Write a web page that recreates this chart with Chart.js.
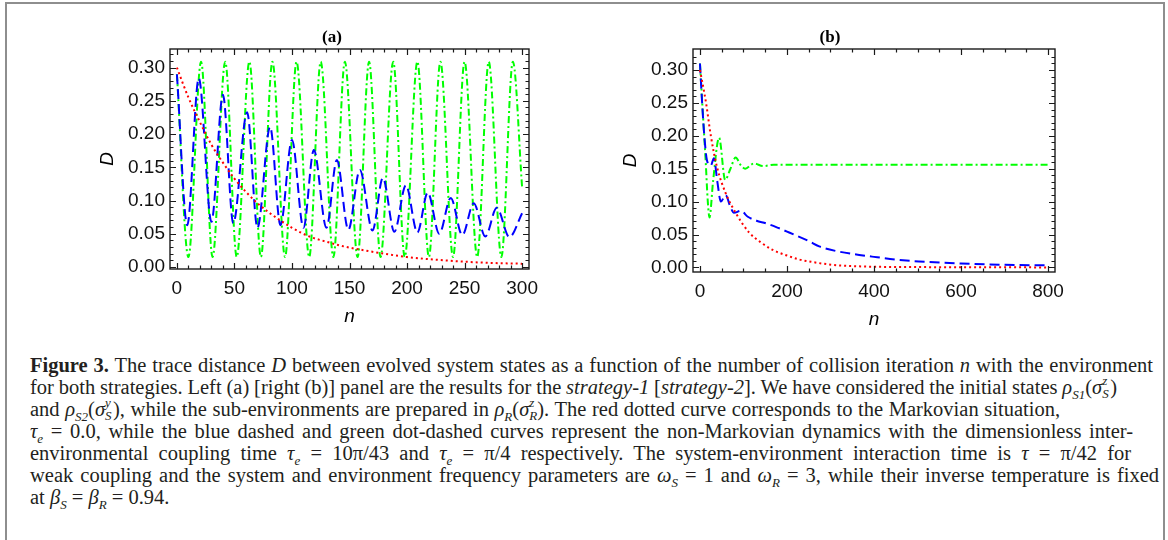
<!DOCTYPE html>
<html>
<head>
<meta charset="utf-8">
<script src="https://cdn.jsdelivr.net/npm/chart.js@4.4.0/dist/chart.umd.min.js"></script>
<style>
html,body{margin:0;padding:0;background:#fff;}
body{width:1168px;height:540px;position:relative;overflow:hidden;}
#Frame{position:absolute;left:5px;top:2px;width:1156px;height:600px;border:2px solid #8e8e8e;border-bottom:none;}
canvas{position:absolute;top:0;}
#Panel__A{left:0;}
#Panel__B{left:584px;}
#Caption{position:absolute;left:30px;top:354px;font-family:"Liberation Serif",serif;font-size:20.5px;color:#231f20;}
.Line{display:block;width:max-content;white-space:nowrap;height:22px;line-height:22px;}
.st{display:inline-block;position:relative;width:8px;height:10px;font-size:13px;font-style:italic;}
.st .up{position:absolute;left:0;top:-10px;line-height:13px;}
.st .dn{position:absolute;left:0;top:3px;line-height:13px;}
sub{font-size:13px;font-style:italic;line-height:0;}
</style>
</head>
<body>
<div id="Frame"></div>
<canvas id="Panel__A" width="584" height="340"></canvas>
<canvas id="Panel__B" width="584" height="340"></canvas>
<div id="Caption">
  <span class="Line" data-w="1123"><b>Figure 3.</b> The trace distance <i>D</i> between evolved system states as a function of the number of collision iteration <i>n</i> with the environment</span>
  <span class="Line" data-w="1087">for both strategies. Left (a) [right (b)] panel are the results for the <i>strategy-1</i> [<i>strategy-2</i>]. We have considered the initial states <i>ρ</i><sub>S1</sub>(<i>σ</i><span class="st"><span class="up">z</span><span class="dn">S</span></span>)</span>
  <span class="Line" data-w="1030">and <i>ρ</i><sub>S2</sub>(<i>σ</i><span class="st"><span class="up">y</span><span class="dn">S</span></span>), while the sub-environments are prepared in <i>ρ</i><sub>R</sub>(<i>σ</i><span class="st"><span class="up">z</span><span class="dn">R</span></span>). The red dotted curve corresponds to the Markovian situation,</span>
  <span class="Line" data-w="1103"><i>τ</i><sub>e</sub> = 0.0, while the blue dashed and green dot-dashed curves represent the non-Markovian dynamics with the dimensionless inter-</span>
  <span class="Line" data-w="1101">environmental coupling time <i>τ</i><sub>e</sub> = 10π/43 and <i>τ</i><sub>e</sub> = π/4 respectively. The system-environment interaction time is <i>τ</i> = π/42 for</span>
  <span class="Line" data-w="1129">weak coupling and the system and environment frequency parameters are <i>ω</i><sub>S</sub> = 1 and <i>ω</i><sub>R</sub> = 3, while their inverse temperature is fixed</span>
  <span class="Line">at <i>β</i><sub>S</sub> = <i>β</i><sub>R</sub> = 0.94.</span>
</div>
<script>
/* panel (a): strategy-1, n from 0 to 300 */
const aRedN = [0, 10, 20, 30, 40, 50, 60, 70, 80, 90, 100, 115, 130, 145, 160, 180, 200, 225, 250, 275, 300];
const aRedD = [0.300, 0.255, 0.218, 0.184, 0.157, 0.133, 0.113, 0.096, 0.082, 0.070, 0.059, 0.046, 0.038, 0.031, 0.026, 0.020, 0.015, 0.011, 0.008, 0.006, 0.005];

const aBlueN = [0, 9, 19, 30, 40, 49, 61, 70, 81, 90, 100, 110, 119, 130, 139, 149, 159, 170, 179, 189, 199, 209, 218, 228, 238, 248, 258, 268, 278, 289, 300];
const aBlueD = [0.290, 0.063, 0.284, 0.068, 0.259, 0.066, 0.233, 0.059, 0.211, 0.063, 0.191, 0.059, 0.176, 0.059, 0.161, 0.056, 0.146, 0.055, 0.134, 0.053, 0.123, 0.052, 0.112, 0.050, 0.104, 0.048, 0.096, 0.046, 0.089, 0.045, 0.081];

const aGreenN = [0, 10, 21, 31, 42, 52, 63, 73, 83, 94, 104, 115, 125, 136, 146, 157, 167, 177, 188, 198, 209, 219, 229, 240, 250, 261, 271, 282, 292, 300];
const aGreenD = [0.290, 0.015, 0.309, 0.015, 0.309, 0.015, 0.309, 0.015, 0.309, 0.015, 0.309, 0.015, 0.309, 0.015, 0.309, 0.015, 0.309, 0.015, 0.309, 0.015, 0.309, 0.015, 0.309, 0.015, 0.309, 0.015, 0.309, 0.015, 0.309, 0.120];

/* panel (b): strategy-2, n from 0 to 800 */
const bRedN = [0, 14, 25, 39, 59, 82, 113, 140, 166, 200, 228, 260, 303, 350, 400, 500, 600, 800];
const bRedD = [0.300, 0.250, 0.200, 0.153, 0.113, 0.083, 0.053, 0.038, 0.027, 0.018, 0.012, 0.008, 0.004, 0.002, 0.001, 0.0005, 0.0002, 0.0];

const bBlueN = [0, 5, 10, 16, 25, 32, 40, 48, 59, 70, 78, 94, 110, 130, 152, 180, 205, 250, 274, 312, 366, 400, 450, 503, 600, 700, 800];
const bBlueD = [0.310, 0.250, 0.200, 0.163, 0.155, 0.166, 0.130, 0.100, 0.110, 0.092, 0.083, 0.086, 0.077, 0.071, 0.067, 0.060, 0.053, 0.040, 0.032, 0.025, 0.019, 0.016, 0.012, 0.009, 0.006, 0.004, 0.003];

const bGreenN = [0, 7, 13, 18, 22, 30, 44, 58, 70, 82, 94, 104, 124, 145, 170, 800];
const bGreenD = [0.310, 0.230, 0.163, 0.100, 0.076, 0.130, 0.197, 0.133, 0.150, 0.167, 0.155, 0.150, 0.158, 0.154, 0.156, 0.156];

/* tick values */
const yMajor = [0, 0.05, 0.10, 0.15, 0.20, 0.25, 0.30];
const yMinor = [0.01, 0.02, 0.03, 0.04, 0.06, 0.07, 0.08, 0.09, 0.11, 0.12, 0.13, 0.14, 0.16, 0.17, 0.18, 0.19, 0.21, 0.22, 0.23, 0.24, 0.26, 0.27, 0.28, 0.29, 0.31, 0.32];
const aXMajor = [0, 50, 100, 150, 200, 250, 300];
const aXMinor = [10, 20, 30, 40, 60, 70, 80, 90, 110, 120, 130, 140, 160, 170, 180, 190, 210, 220, 230, 240, 260, 270, 280, 290];
const bXMajor = [0, 200, 400, 600, 800];
const bXMinor = [50, 100, 150, 250, 300, 350, 450, 500, 550, 650, 700, 750];

const TickFont = {family: "'Liberation Sans', Arial, sans-serif", size: 19};
const AxisWidth = 60;
const AxisHeight = 45;

/* turns two arrays into chart points */
function ToPoints(_N, _D){
  return _N.map((n, i) => ({x: n, y: _D[i]}));
}

/* draws the Mathematica-like frame with inward ticks and the labels */
const FramePlugin = {
  id: "FramePlugin",
  afterDatasetsDraw(chart, args, opts){
    const ctx = chart.ctx;
    const area = chart.chartArea;
    const x = chart.scales.x;
    const y = chart.scales.y;
    ctx.save();
    ctx.strokeStyle = "#1a1a1a";
    ctx.lineWidth = 1.4;
    ctx.strokeRect(area.left, area.top, area.right - area.left, area.bottom - area.top);
    ctx.beginPath();
    ctx.lineWidth = 1.2;
    const tickX = (values, len) => values.forEach(v => {
      const px = Math.round(x.getPixelForValue(v)) + 0.5;
      ctx.moveTo(px, area.bottom); ctx.lineTo(px, area.bottom - len);
      ctx.moveTo(px, area.top); ctx.lineTo(px, area.top + len);
    });
    const tickY = (values, len) => values.forEach(v => {
      const py = Math.round(y.getPixelForValue(v)) + 0.5;
      ctx.moveTo(area.left, py); ctx.lineTo(area.left + len, py);
      ctx.moveTo(area.right, py); ctx.lineTo(area.right - len, py);
    });
    tickX(opts.xMajor, 6); tickX(opts.xMinor, 3.5);
    tickY(yMajor, 6); tickY(yMinor, 3.5);
    ctx.stroke();

    ctx.fillStyle = "#000";
    ctx.textAlign = "center";
    ctx.textBaseline = "middle";
    ctx.font = "bold 17px 'Liberation Serif', serif";
    ctx.fillText(opts.title, opts.titleX, area.top - 11);
    ctx.font = "italic 19px 'Liberation Sans', Arial, sans-serif";
    ctx.fillText("n", (area.left + area.right) / 2, area.bottom + 48);
    ctx.translate(area.left - 62, (area.top + area.bottom) / 2);
    ctx.rotate(-Math.PI / 2);
    ctx.fillText("D", 0, 0);
    ctx.restore();
  }
};

/* builds one panel */
function CreatePanel(_Canvas, _Sets, _XMin, _XMax, _YMin, _YMax, _XMajor, _XMinor, _Padding, _Title, _TitleX){
  return new Chart(document.getElementById(_Canvas), {
    type: "line",
    plugins: [FramePlugin],
    data: {
      datasets: [
        {data: ToPoints(_Sets[0][0], _Sets[0][1]), borderColor: "#ff0000", borderDash: [2, 3]},
        {data: ToPoints(_Sets[1][0], _Sets[1][1]), borderColor: "#0000ff", borderDash: [10, 5]},
        {data: ToPoints(_Sets[2][0], _Sets[2][1]), borderColor: "#00ff00", borderDash: [7, 3, 2, 3]}
      ]
    },
    options: {
      responsive: false,
      animation: false,
      layout: {padding: _Padding},
      elements: {
        point: {radius: 0},
        line: {borderWidth: 2, fill: false, cubicInterpolationMode: "monotone"}
      },
      plugins: {
        legend: {display: false},
        tooltip: {enabled: false},
        FramePlugin: {xMajor: _XMajor, xMinor: _XMinor, title: _Title, titleX: _TitleX}
      },
      scales: {
        x: {
          type: "linear", min: _XMin, max: _XMax,
          grid: {display: false, drawTicks: false},
          border: {display: false},
          afterBuildTicks: s => { s.ticks = _XMajor.map(v => ({value: v})); },
          afterFit: s => { s.height = AxisHeight; },
          ticks: {font: TickFont, color: "#111", padding: 8, autoSkip: false, maxRotation: 0, callback: v => String(v)}
        },
        y: {
          type: "linear", min: _YMin, max: _YMax,
          grid: {display: false, drawTicks: false},
          border: {display: false},
          afterBuildTicks: s => { s.ticks = yMajor.map(v => ({value: v})); },
          afterFit: s => { s.width = AxisWidth; },
          ticks: {font: TickFont, color: "#111", padding: 5, callback: v => v.toFixed(2)}
        }
      }
    }
  });
}

CreatePanel("Panel__A",
  [[aRedN, aRedD], [aBlueN, aBlueD], [aGreenN, aGreenD]],
  -6, 306, -0.003, 0.328, aXMajor, aXMinor,
  {left: 170 - AxisWidth, top: 49, right: 584 - 529, bottom: 340 - 269 - AxisHeight},
  "(a)", 332);

CreatePanel("Panel__B",
  [[bRedN, bRedD], [bBlueN, bBlueD], [bGreenN, bGreenD]],
  -16, 816, -0.007, 0.332, bXMajor, bXMinor,
  {left: 109 - AxisWidth, top: 49, right: 584 - 471, bottom: 340 - 272 - AxisHeight},
  "(b)", 246);

/* spread the words of each caption line so that it ends where the printed line ends */
document.querySelectorAll("#Caption .Line[data-w]").forEach(line => {
  const target = Number(line.dataset.w);
  const natural = line.getBoundingClientRect().width;
  const gaps = (line.textContent.trim().match(/ /g) || []).length;
  line.style.wordSpacing = ((target - natural) / gaps).toFixed(2) + "px";
});
</script>
</body>
</html>
